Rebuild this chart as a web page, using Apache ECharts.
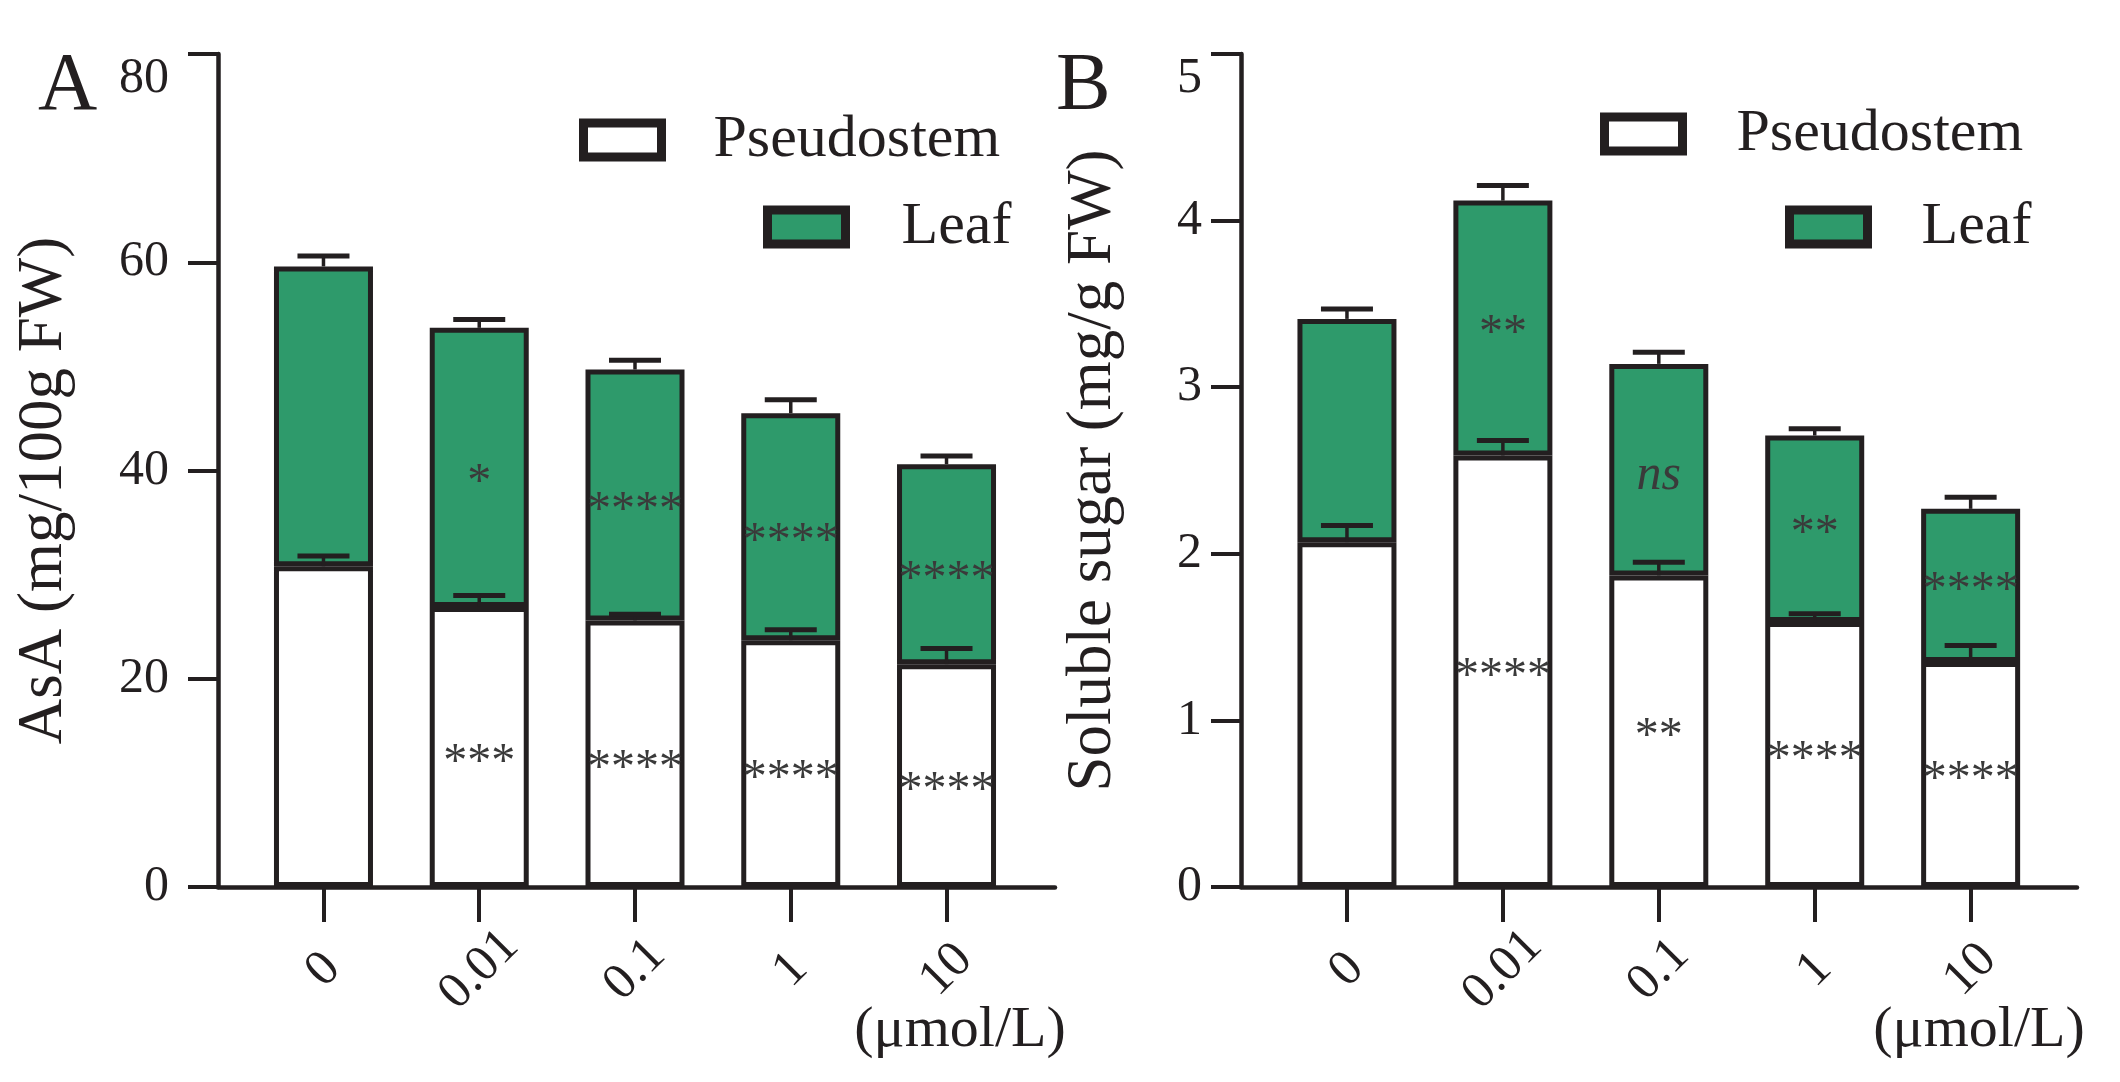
<!DOCTYPE html>
<html><head><meta charset="utf-8">
<script src="https://cdn.jsdelivr.net/npm/echarts@6/dist/echarts.min.js"></script>
<style>html,body{margin:0;padding:0;background:#fff}#c{width:2120px;height:1082px}</style>
</head><body><div id="c"></div>
<script>
// ---- data ----
const categories = ['0', '0.01', '0.1', '1', '10'];
const unitLabel = '(μmol/L)';
const seriesNames = ['Pseudostem', 'Leaf'];

const asaPseudostem    = [30.8, 26.9, 25.6, 23.7, 21.4];
const asaPseudostemErr = [1.0, 1.1, 0.6, 1.0, 1.5];
const asaLeaf          = [28.8, 26.8, 24.1, 21.8, 19.2];
const asaLeafErr       = [1.0, 0.8, 0.9, 1.3, 0.8];
const asaPseudostemSig = ['', '***', '****', '****', '****'];
const asaLeafSig       = ['', '*', '****', '****', '****'];

const sugarPseudostem    = [2.07, 2.59, 1.87, 1.59, 1.35];
const sugarPseudostemErr = [0.10, 0.09, 0.08, 0.05, 0.10];
const sugarLeaf          = [1.34, 1.53, 1.27, 1.12, 0.92];
const sugarLeafErr       = [0.06, 0.09, 0.07, 0.04, 0.07];
const sugarPseudostemSig = ['', '****', '**', '****', '****'];
const sugarLeafSig       = ['', '**', 'ns', '**', '****'];

const asaAxis   = {min: 0, max: 80, interval: 20, title: 'AsA (mg/100g FW)'};
const sugarAxis = {min: 0, max: 5, interval: 1, title: 'Soluble sugar (mg/g FW)'};

// ---- style ----
const INK = '#231f20';
const GREEN = '#2e9a6b';
const FONT = '"Liberation Serif", "DejaVu Serif", serif';

const chart = echarts.init(document.getElementById('c'), null, {renderer: 'canvas'});

// frame axes (axis lines + y ticks), one grid per panel
function frameX(gridIndex) {
  return {
    type: 'value', gridIndex, min: 0, max: 1,
    splitLine: {show: false}, axisTick: {show: false}, axisLabel: {show: false},
    axisLine: {show: true, onZero: false, lineStyle: {color: INK, width: 4.5}}
  };
}
function frameY(gridIndex, ax, gap, margin, pad) {
  return {
    type: 'value', gridIndex, min: ax.min, max: ax.max, interval: ax.interval,
    name: ax.title, nameLocation: 'middle', nameGap: gap, nameRotate: 90,
    nameTextStyle: {fontFamily: FONT, fontSize: 63, color: INK, padding: pad},
    splitLine: {show: false},
    axisLine: {show: true, onZero: false, lineStyle: {color: INK, width: 4.5}},
    axisTick: {show: true, length: 30, lineStyle: {color: INK, width: 4}},
    axisLabel: {fontFamily: FONT, fontSize: 50, color: INK, margin: margin, verticalAlignMaxLabel: 'top'}
  };
}
// bar axes (categories), one grid per panel
function barX(gridIndex) {
  return {
    type: 'category', gridIndex, data: categories, boundaryGap: true,
    axisLine: {show: false, onZero: false},
    axisTick: {show: true, alignWithLabel: true, length: 35, lineStyle: {color: INK, width: 4}},
    axisLabel: {
      rotate: 45, align: 'center', verticalAlign: 'middle', margin: 83, interval: 0,
      fontFamily: FONT, fontSize: 51, color: INK
    }
  };
}
function barY(gridIndex, ax) {
  return {
    type: 'value', gridIndex, min: ax.min, max: ax.max, interval: ax.interval, show: false,
    splitLine: {show: false}
  };
}
function sigLabel(arr, dy) {
  return {
    show: true, position: 'inside', offset: [0, dy],
    formatter: p => {
      const s = arr[p.dataIndex];
      return s === 'ns' ? '{i|ns}' : s;
    },
    fontFamily: FONT, fontSize: 48, color: '#3a3a3a',
    rich: {i: {fontFamily: FONT, fontSize: 50, fontStyle: 'italic', color: '#3a3a3a'}}
  };
}
function barSeries(name, vals, axisIdx, stack, fill, sig, dy) {
  return {
    type: 'bar', name, stack, xAxisIndex: axisIdx, yAxisIndex: axisIdx,
    barWidth: 99, z: 2,
    itemStyle: {color: fill, borderColor: INK, borderWidth: 5},
    label: sigLabel(sig, dy),
    emphasis: {disabled: true},
    data: vals
  };
}
function errRender(params, api) {
  const x = api.value(0), top = api.value(1), err = api.value(2);
  const p0 = api.coord([x, top]);
  const p1 = api.coord([x, top + err]);
  const half = 26;
  return {type: 'group', children: [
    {type: 'line', shape: {x1: p0[0], y1: p0[1], x2: p1[0], y2: p1[1]}, style: {stroke: INK, lineWidth: 3.5}},
    {type: 'line', shape: {x1: p1[0] - half, y1: p1[1], x2: p1[0] + half, y2: p1[1]}, style: {stroke: INK, lineWidth: 5}}
  ]};
}
function errSeries(axisIdx, base, stacked, baseErr, stackedErr) {
  const d = [];
  base.forEach((v, i) => d.push([i, v, baseErr[i]]));
  base.forEach((v, i) => d.push([i, v + stacked[i], stackedErr[i]]));
  return {
    type: 'custom', xAxisIndex: axisIdx, yAxisIndex: axisIdx, z: 5, clip: false,
    renderItem: errRender, encode: {x: 0, y: 1}, silent: true, data: d
  };
}
function legendDef(name, left, top, padLeft) {
  return {
    data: [name], left, top, orient: 'vertical', selectedMode: false,
    itemWidth: 78, itemHeight: 34, icon: 'rect',
    itemStyle: {borderWidth: 9, borderColor: INK},
    textStyle: {fontFamily: FONT, fontSize: 60, color: INK, padding: [0, 0, 0, padLeft]}
  };
}

const option = {
  backgroundColor: '#fff',
  animation: false,
  grid: [
    {left: 218, right: 1065, top: 54, bottom: 195},      // A frame
    {left: 1241, right: 43, top: 54, bottom: 195},       // B frame
    {left: 245.6, right: 1095.6, top: 54, bottom: 195},  // A bars
    {left: 1269, right: 71.4, top: 54, bottom: 195}      // B bars
  ],
  xAxis: [frameX(0), frameX(1), barX(2), barX(3)],
  yAxis: [
    frameY(0, asaAxis, 142, 49, [0, 40, 0, 0]),
    frameY(1, sugarAxis, 116, 39, [0, 0, 0, 0]),
    barY(2, asaAxis),
    barY(3, sugarAxis)
  ],
  legend: [
    legendDef(seriesNames[0], 574, 105, 47),
    legendDef(seriesNames[1], 758, 192, 51),
    legendDef(seriesNames[0], 1595, 99, 49),
    legendDef(seriesNames[1], 1780, 192, 49)
  ],
  graphic: [
    {type: 'text', left: 38, top: 46, style: {text: 'A', font: '82px ' + FONT, fill: INK}},
    {type: 'text', left: 1056, top: 46, style: {text: 'B', font: '82px ' + FONT, fill: INK}},
    {type: 'text', x: 960, y: 1031, style: {text: unitLabel, font: '58px ' + FONT, fill: INK, align: 'center', verticalAlign: 'middle'}},
    {type: 'text', x: 1979, y: 1031, style: {text: unitLabel, font: '58px ' + FONT, fill: INK, align: 'center', verticalAlign: 'middle'}}
  ],
  series: [
    barSeries(seriesNames[0], asaPseudostem, 2, 'asa', '#ffffff', asaPseudostemSig, 16),
    barSeries(seriesNames[1], asaLeaf, 2, 'asa', GREEN, asaLeafSig, 16),
    errSeries(2, asaPseudostem, asaLeaf, asaPseudostemErr, asaLeafErr),
    barSeries(seriesNames[0], sugarPseudostem, 3, 'sugar', '#ffffff', sugarPseudostemSig, 6),
    barSeries(seriesNames[1], sugarLeaf, 3, 'sugar', GREEN, sugarLeafSig, 6),
    errSeries(3, sugarPseudostem, sugarLeaf, sugarPseudostemErr, sugarLeafErr)
  ]
};
chart.setOption(option);
</script>
</body></html>
